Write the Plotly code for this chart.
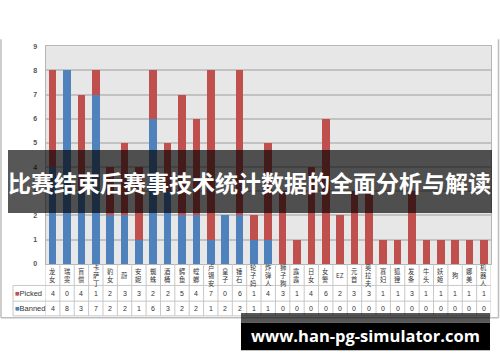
import plotly.graph_objects as go

W, H = 500, 362

heroes = ["龙女", "瑞雯", "盲僧", "卡萨丁", "豹女", "蔚", "安妮", "蜘蛛", "酒桶", "鳄鱼",
          "螳螂", "卢锡安", "皇子", "锤石", "轮子妈", "炸弹人", "狮子狗", "露露", "日女", "女警",
          "EZ", "元首", "奥拉夫", "寡妇", "狐狸", "发条", "牛头", "妖姬", "狗", "娜美", "机器人"]
picked = [4, 0, 4, 1, 2, 3, 3, 2, 2, 5, 4, 7, 0, 6, 1, 4, 3, 1, 4, 6, 2, 3, 3, 1, 1, 3, 1, 1, 1, 1, 1]
banned = [4, 8, 3, 7, 2, 2, 1, 6, 3, 2, 2, 1, 2, 2, 1, 1, 0, 0, 0, 0, 0, 0, 0, 0, 0, 0, 0, 0, 0, 0, 0]
y_ticks = [0, 1, 2, 3, 4, 5, 6, 7, 8, 9]

title_text = "比赛结束后赛事技术统计数据的全面分析与解读"
watermark = "www.han-pg-simulator.com"

RED = "#c0504d"
BLUE = "#4f81bd"
FONT = "Noto Sans CJK SC"


def px(x):
    return x / W


def py(y):
    return 1 - y / H


PLOT_L, PLOT_R, PLOT_T, PLOT_B = 45.5, 491, 43, 265
TABLE_L = 13
ROW1, ROW2, ROW3 = 287, 303, 318

fig = go.Figure()
fig.add_trace(go.Bar(x=list(range(len(heroes))), y=banned, name="Banned",
                     marker=dict(color=BLUE, line=dict(width=0))))
fig.add_trace(go.Bar(x=list(range(len(heroes))), y=picked, name="Picked",
                     marker=dict(color=RED, line=dict(width=0))))

shapes = []
annotations = []
n = len(heroes)

# table lines
line_c = "#c8c8c8"
for i in range(n + 1):
    shapes.append(dict(type="line", xref="x", yref="paper", x0=i - 0.5, x1=i - 0.5,
                       y0=py(PLOT_B), y1=py(ROW3), line=dict(color=line_c, width=1)))
for yy in (ROW1, ROW2, ROW3):
    shapes.append(dict(type="line", xref="paper", yref="paper", x0=px(TABLE_L), x1=px(PLOT_R),
                       y0=py(yy), y1=py(yy), line=dict(color=line_c, width=1)))
shapes.append(dict(type="line", xref="paper", yref="paper", x0=px(TABLE_L), x1=px(TABLE_L),
                   y0=py(ROW1), y1=py(ROW3), line=dict(color=line_c, width=1)))

# outer chart frame
frame_c = "#bdbdbd"
shapes.append(dict(type="line", xref="paper", yref="paper", x0=px(1), x1=px(1),
                   y0=py(36), y1=py(320), line=dict(color=frame_c, width=1.5)))
shapes.append(dict(type="line", xref="paper", yref="paper", x0=px(498.5), x1=px(498.5),
                   y0=py(36), y1=py(320), line=dict(color=frame_c, width=1.5)))
shapes.append(dict(type="line", xref="paper", yref="paper", x0=px(1), x1=px(498.5),
                   y0=py(320), y1=py(320), line=dict(color=frame_c, width=1.5)))

# category labels (vertical stacked characters) and table values
mid = (PLOT_B + ROW1) / 2 + 0.5
for i, h in enumerate(heroes):
    txt = h if h.isascii() else "<br>".join(list(h))
    annotations.append(dict(x=i, y=py(mid), xref="x", yref="paper",
                            text=txt, showarrow=False, borderpad=0,
                            font=dict(size=6.3, color="#333333", family=FONT),
                            xanchor="center", yanchor="middle"))
    annotations.append(dict(x=i, y=py((ROW1 + ROW2) / 2), xref="x", yref="paper",
                            text=str(picked[i]), showarrow=False, borderpad=0,
                            font=dict(size=7, color="#333333", family="Liberation Sans"),
                            xanchor="center", yanchor="middle"))
    annotations.append(dict(x=i, y=py((ROW2 + ROW3) / 2), xref="x", yref="paper",
                            text=str(banned[i]), showarrow=False, borderpad=0,
                            font=dict(size=7, color="#333333", family="Liberation Sans"),
                            xanchor="center", yanchor="middle"))

annotations.append(dict(x=px(14), y=py((ROW1 + ROW2) / 2), xref="paper", yref="paper",
                        text=f'<span style="color:{RED}">■</span>Picked', showarrow=False,
                        borderpad=0,
                        font=dict(size=7.5, color="#333333", family="Liberation Sans"),
                        xanchor="left", yanchor="middle"))
annotations.append(dict(x=px(14), y=py((ROW2 + ROW3) / 2), xref="paper", yref="paper",
                        text=f'<span style="color:{BLUE}">■</span>Banned', showarrow=False,
                        borderpad=0,
                        font=dict(size=7.5, color="#333333", family="Liberation Sans"),
                        xanchor="left", yanchor="middle"))

# title banner overlay
shapes.append(dict(type="rect", xref="paper", yref="paper", x0=px(8), x1=px(492),
                   y0=py(213), y1=py(149), fillcolor="rgba(0,0,0,0.66)", line=dict(width=0),
                   layer="above"))
annotations.append(dict(x=px(249), y=py(182), xref="paper", yref="paper", text=f"<b>{title_text}</b>",
                        showarrow=False, font=dict(size=23, color="white", family=FONT),
                        xanchor="center", yanchor="middle"))

# watermark
shapes.append(dict(type="rect", xref="paper", yref="paper", x0=px(241), x1=px(490),
                   y0=py(325), y1=py(315), fillcolor="rgba(0,0,0,0.66)", line=dict(width=0),
                   layer="above"))
shapes.append(dict(type="rect", xref="paper", yref="paper", x0=px(241), x1=px(490),
                   y0=py(353), y1=py(325), fillcolor="black", line=dict(width=0),
                   layer="above"))
annotations.append(dict(x=px(365), y=py(338.5), xref="paper", yref="paper", text=f"<b>{watermark}</b>",
                        showarrow=False, font=dict(size=16.5, color="white", family="Open Sans"),
                        xanchor="center", yanchor="middle"))

fig.update_layout(
    width=W, height=H,
    margin=dict(l=0, r=0, t=0, b=0),
    paper_bgcolor="white",
    plot_bgcolor="#e7e7e7",
    barmode="stack",
    bargap=0.47,
    showlegend=False,
    xaxis=dict(domain=[px(PLOT_L), px(PLOT_R)], range=[-0.5, n - 0.5],
               showticklabels=False, showgrid=False, zeroline=False,
               showline=True, mirror=True, linecolor="#b5b5b5", linewidth=1, ticks=""),
    yaxis=dict(domain=[py(PLOT_B), py(PLOT_T)], range=[0, 9], tickvals=y_ticks,
               ticktext=[f"<b>{v}</b>" for v in y_ticks],
               showgrid=True, gridcolor="#c2c2c2", gridwidth=1.5, zeroline=False,
               showline=True, mirror=True, linecolor="#b5b5b5", linewidth=1,
               tickfont=dict(size=7, color="#555555", family="Liberation Sans"),
               ticks="", ticklabelstandoff=6),
    shapes=shapes,
    annotations=annotations,
)

fig.write_html("out.html")
